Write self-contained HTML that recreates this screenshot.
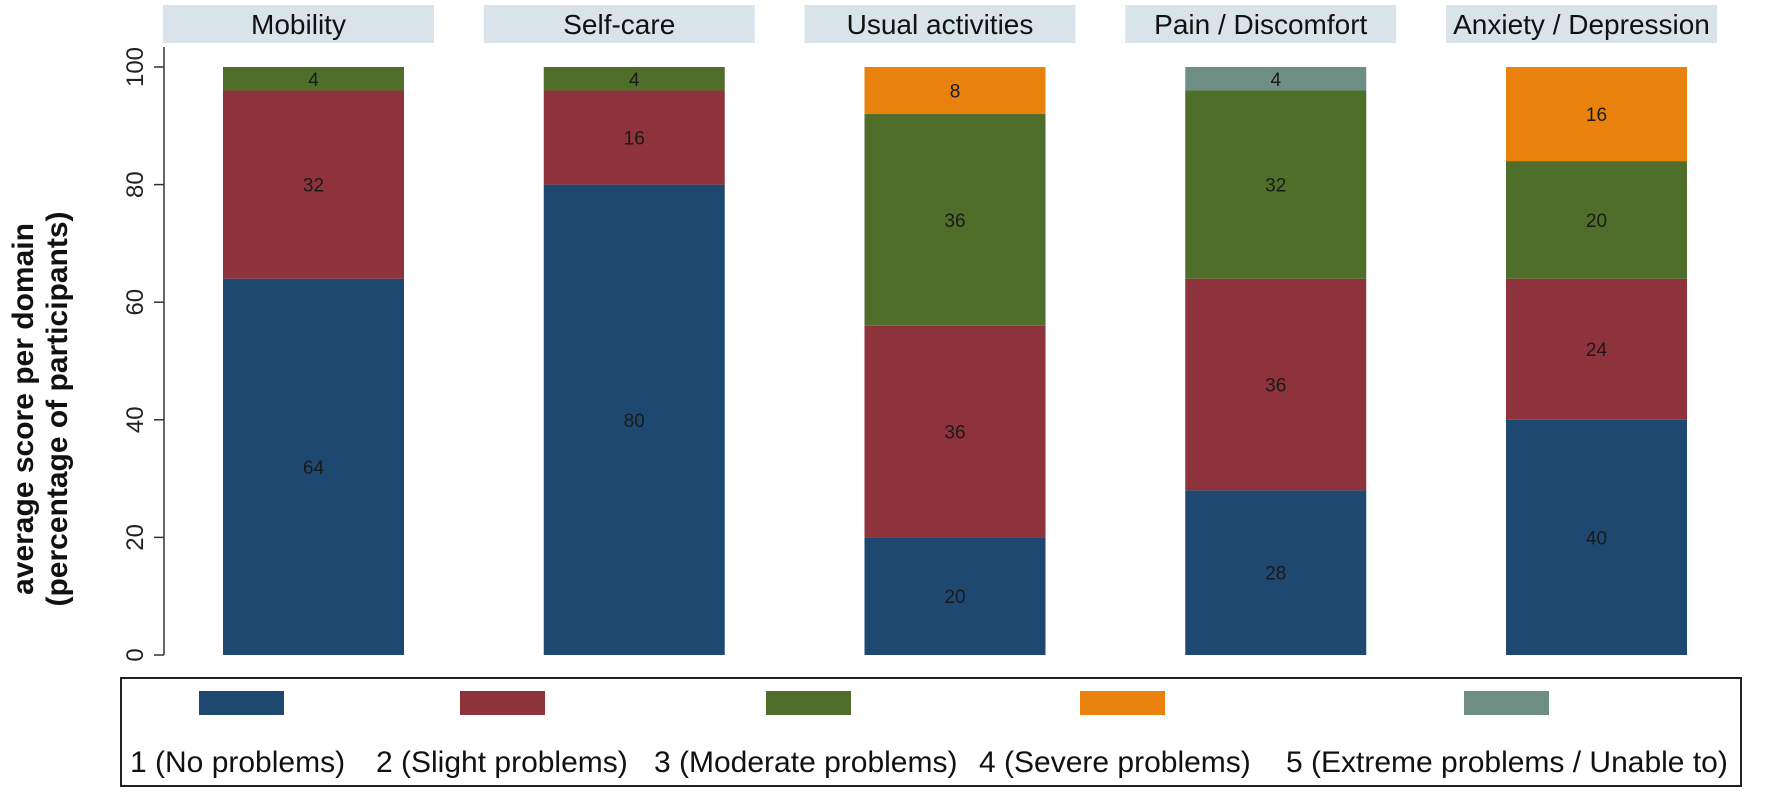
<!DOCTYPE html>
<html><head><meta charset="utf-8"><style>
html,body{margin:0;padding:0;background:#fff;width:1772px;height:803px;overflow:hidden}
svg text{font-family:"Liberation Sans",sans-serif}
</style></head><body>
<svg id="chart" width="1772" height="803" viewBox="0 0 1772 803">
<g id="headers"></g>
<g id="axis"></g>
<g id="bars"></g>
<g id="legend"></g>
<text transform="translate(33,409) rotate(-90)" text-anchor="middle" font-size="30" font-weight="bold" fill="#111">average score per domain</text>
<text transform="translate(67,409) rotate(-90)" text-anchor="middle" font-size="30" font-weight="bold" fill="#111">(percentage of participants)</text>
</svg>
<script>
const domains=["Mobility","Self-care","Usual activities","Pain / Discomfort","Anxiety / Depression"];
const level1=[64,80,20,28,40];
const level2=[32,16,36,36,24];
const level3=[4,4,36,32,20];
const level4=[0,0,8,0,16];
const level5=[0,0,0,4,0];
const levelLabels=["1 (No problems)","2 (Slight problems)","3 (Moderate problems)","4 (Severe problems)","5 (Extreme problems / Unable to)"];
const yTicks=[0,20,40,60,80,100];

const colors=["#1f4870","#8e323c","#4f6e2a","#e8820c","#6f8e84"];
const NS="http://www.w3.org/2000/svg";
const y0=655,yScale=5.88;
const yPos=v=>y0-v*yScale;
const panelX=i=>163+i*320.75;
const panelW=271,barOff=60,barW=181;
function mk(tag,attrs,parent){const e=document.createElementNS(NS,tag);for(const k in attrs)e.setAttribute(k,attrs[k]);parent.appendChild(e);return e;}
const H=document.getElementById('headers'),A=document.getElementById('axis'),B=document.getElementById('bars'),L=document.getElementById('legend');
domains.forEach((d,i)=>{
  const r=mk('rect',{x:panelX(i),y:5,width:panelW,height:38,fill:'#d8e3ea'},H);
  
  
  const t=mk('text',{x:panelX(i)+panelW/2,y:34,'text-anchor':'middle','font-size':28,fill:'#111'},H);
  t.textContent=d;
  
  
});
const ax=mk('line',{x1:164,y1:yPos(100)-20,x2:164,y2:y0,stroke:'#333','stroke-width':1.5},A);


yTicks.forEach(v=>{
  const tk=mk('line',{x1:154,y1:yPos(v),x2:164,y2:yPos(v),stroke:'#333','stroke-width':1.5},A);
  
  
  const t=mk('text',{transform:`translate(143,${yPos(v)}) rotate(-90)`,'text-anchor':'middle','font-size':24,fill:'#222'},A);
  t.textContent=v;
  
  
});
const series=[level1,level2,level3,level4,level5];
domains.forEach((d,i)=>{
  let cum=0;
  series.forEach((s,k)=>{
    const v=s[i];if(!v)return;
    const top=yPos(cum+v),bot=yPos(cum);
    const r=mk('rect',{x:panelX(i)+barOff,y:top,width:barW,height:bot-top,fill:colors[k]},B);
    
    
    const t=mk('text',{x:panelX(i)+barOff+barW/2,y:(top+bot)/2+7,'text-anchor':'middle','font-size':19,fill:'#1a1a1a'},B);
    t.textContent=v;
    
    
    cum+=v;
  });
});
const lb=mk('rect',{x:121,y:678,width:1620,height:108,fill:'none',stroke:'#222','stroke-width':2},L);


const swX=[199,460,766,1080,1464],txX=[130,376,654,979,1286];
levelLabels.forEach((lab,k)=>{
  const r=mk('rect',{x:swX[k],y:691,width:85,height:24,fill:colors[k]},L);
  
  
  const t=mk('text',{x:txX[k],y:772,'font-size':30,fill:'#111'},L);
  t.textContent=lab;
  
  
});
</script>
</body></html>
